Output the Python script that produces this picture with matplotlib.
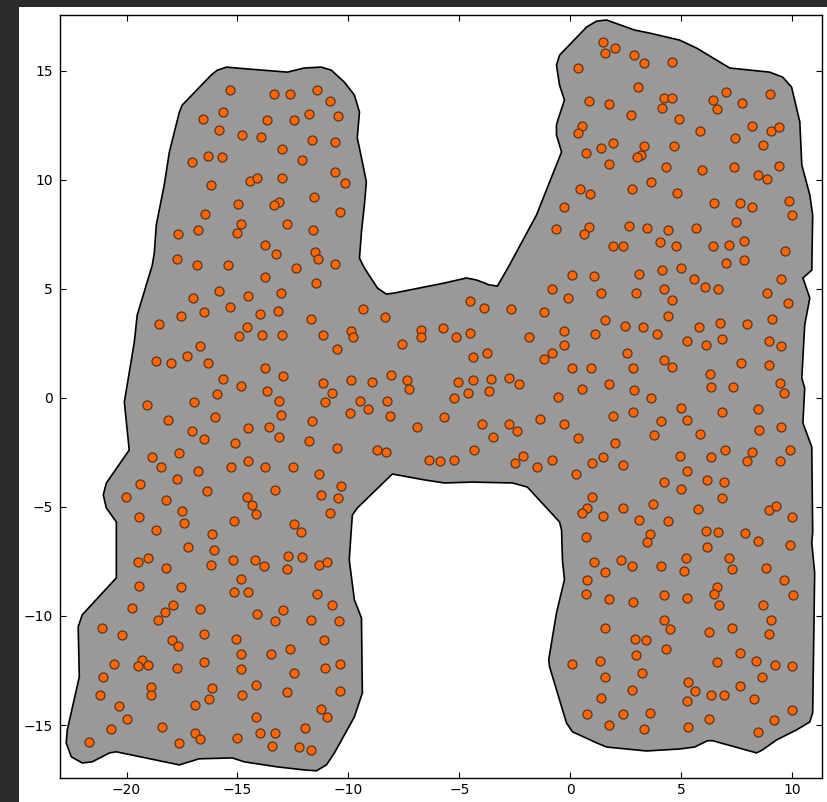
import matplotlib
matplotlib.use('Agg')
import matplotlib.pyplot as plt
from matplotlib.patches import Polygon, Rectangle

# outline of the sampled region (concave hull, buffered)
hull_x = [-17.49, -16.18, -15.91, -15.50, -14.47, -12.75, -11.99, -11.22, -10.77, -10.18,
          -9.73, -9.50, -9.60, -9.37, -9.19, -9.28, -9.41, -9.50, -9.28, -8.69,
          -8.29, -7.93, -5.67, -4.68, -4.23, -3.64, -3.28, -2.74, -1.52, -0.39,
          -0.62, -0.62, -0.48, -0.26, -0.48, -0.62, -0.48, 0.74, 1.19, 1.64,
          2.90, 3.58, 4.93, 5.70, 7.19, 8.99, 9.58, 9.98, 10.35, 10.44,
          10.80, 10.93, 10.89, 10.49, 10.80, 10.57, 10.44, 10.57, 10.49, 10.89,
          10.93, 10.89, 11.02, 10.93, 10.80, 10.21, 9.31, 8.67, 8.40, 6.42,
          6.19, 5.61, 4.93, 3.44, 1.64, 1.19, 0.10, -0.17, -0.93, -0.97,
          -0.62, -0.26, -0.35, -0.39, -0.48, -1.93, -2.60, -4.41, -5.67, -6.57,
          -8.02, -9.60, -9.82, -9.87, -9.96, -9.73, -9.41, -9.37, -9.73, -10.63,
          -10.99, -11.44, -11.99, -13.20, -14.69, -15.23, -16.73, -17.62, -20.46, -20.77,
          -21.55, -22.00, -22.49, -22.72, -22.67, -22.13, -22.18, -22.00, -20.46, -20.46,
          -20.46, -20.91, -21.05, -20.91, -19.88, -20.10, -19.65, -19.52, -18.84, -18.75,
          -18.66, -18.30, -18.07, -17.62]
hull_y = [13.43, 14.81, 15.03, 15.17, 15.08, 14.94, 15.13, 15.17, 15.03, 14.48,
          13.89, 13.11, 11.93, 10.82, 9.90, 8.84, 7.61, 6.41, 5.96, 5.04,
          4.76, 4.81, 5.27, 5.50, 5.41, 5.18, 5.13, 6.09, 8.39, 11.28,
          12.06, 12.52, 12.98, 13.66, 14.34, 15.26, 15.72, 17.01, 17.28, 17.33,
          16.87, 16.73, 16.41, 16.04, 15.13, 14.94, 14.71, 14.25, 12.66, 10.68,
          9.31, 8.39, 5.86, 5.50, 4.58, 3.34, 0.91, 0.45, -1.15, -2.25,
          -6.15, -6.65, -8.02, -14.44, -14.86, -15.22, -15.68, -16.14, -16.28, -15.72,
          -15.72, -16.01, -16.10, -16.19, -16.01, -15.82, -15.31, -14.90, -12.33, -12.01,
          -9.86, -8.34, -7.43, -6.06, -5.69, -4.09, -3.90, -3.86, -3.90, -3.76,
          -3.49, -5.05, -5.37, -6.06, -7.43, -9.26, -10.09, -13.53, -14.63, -16.28,
          -16.83, -17.10, -17.06, -16.92, -16.69, -16.51, -16.55, -16.83, -16.23, -16.28,
          -16.69, -16.74, -16.46, -15.82, -15.22, -12.79, -10.50, -9.95, -8.25, -6.29,
          -5.69, -5.05, -4.45, -3.90, -2.39, -0.19, 2.56, 3.80, 6.09, 6.64,
          7.93, 9.77, 11.28, 13.11]

# sample locations, upper band
pts_upper = [
    (-15.32, 14.12), (-15.64, 13.11), (-16.54, 12.79), (-15.82, 12.28), (-14.78, 12.05),
    (-16.32, 11.09), (-15.68, 11.05), (-17.04, 10.82), (-16.18, 9.76), (-14.96, 8.89),
    (-16.45, 8.43), (-14.83, 7.97), (-16.77, 7.70), (-15.01, 7.56), (-17.67, 7.51),
    (-17.71, 6.37), (-16.81, 6.09), (-15.41, 6.09),
    (-13.34, 13.93), (-12.62, 13.93), (-11.40, 14.12), (-10.81, 13.61), (-13.65, 12.74),
    (-12.44, 12.74), (-11.76, 13.02), (-10.45, 12.93), (-13.93, 11.96), (-11.62, 11.82),
    (-10.59, 11.73), (-12.98, 11.41), (-12.08, 10.91), (-14.42, 9.94), (-14.11, 10.08),
    (-12.98, 10.08), (-10.59, 10.36), (-10.14, 9.85), (-11.53, 9.21), (-13.11, 8.98),
    (-13.34, 8.84), (-10.36, 8.52), (-12.75, 7.97), (-11.58, 7.70), (-13.75, 7.01),
    (-13.25, 6.60), (-11.49, 6.69), (-11.35, 6.37), (-10.59, 6.14), (-12.35, 5.96),
    (1.46, 16.32), (1.55, 15.81), (2.04, 16.04), (0.37, 15.13), (0.83, 13.61),
    (1.73, 13.48), (2.72, 12.97), (0.51, 12.47), (0.37, 12.15), (0.69, 11.23),
    (1.41, 11.46), (1.95, 11.69), (1.77, 10.72), (0.42, 9.58), (0.87, 9.35),
    (2.77, 9.58), (-0.30, 8.75), (-0.66, 7.74), (0.83, 7.84), (0.60, 7.51),
    (2.63, 7.88), (1.91, 6.96), (2.36, 6.96),
    (2.86, 15.72), (3.31, 15.36), (4.61, 15.40), (3.04, 14.25), (4.25, 13.75),
    (4.61, 13.75), (4.12, 13.29), (4.89, 12.79), (5.83, 12.24), (7.01, 14.03),
    (6.42, 13.66), (6.60, 13.25), (7.73, 13.52), (8.99, 13.93), (8.18, 12.47),
    (9.04, 12.24), (9.40, 12.42), (7.41, 11.92), (8.67, 11.60), (3.31, 11.55),
    (4.66, 11.55), (3.17, 11.14), (2.99, 11.05), (4.30, 10.59), (5.92, 10.45),
    (7.37, 10.59), (8.45, 10.22), (8.86, 10.04), (9.40, 10.63), (3.62, 9.90),
    (4.80, 9.39), (6.46, 8.94), (7.64, 8.94), (8.18, 8.75), (9.85, 9.03),
    (9.98, 8.39), (7.46, 8.07), (3.44, 7.79), (4.39, 7.70), (5.65, 7.79),
    (4.03, 7.15), (4.75, 6.96), (6.42, 6.96), (7.14, 7.01), (7.82, 7.19),
    (9.67, 6.74), (7.01, 6.19), (7.82, 6.32), (4.12, 5.86), (4.98, 5.96),
]

# middle band, including the crossbar
pts_middle = [
    (-16.99, 4.58), (-15.82, 4.90), (-17.53, 3.76), (-16.50, 3.94), (-15.32, 4.17),
    (-18.53, 3.39), (-14.92, 2.84), (-16.68, 2.38), (-17.26, 1.92), (-18.66, 1.69),
    (-17.99, 1.60), (-16.32, 1.60), (-15.64, 0.87), (-14.83, 0.55), (-15.91, 0.18),
    (-19.07, -0.33), (-16.95, -0.19), (-18.12, -1.01), (-16.00, -0.88), (-17.04, -1.52),
    (-16.50, -1.88), (-15.10, -2.07), (-18.84, -2.71), (-17.62, -2.53), (-18.44, -3.17),
    (-16.77, -3.35), (-15.28, -3.17), (-19.38, -3.95), (-17.71, -3.72), (-20.02, -4.54),
    (-18.21, -4.68), (-16.36, -4.27), (-19.43, -5.46), (-17.49, -5.19), (-17.40, -5.74),
    (-15.14, -5.64), (-18.66, -6.06), (-16.14, -6.24),
    (-13.75, 5.54), (-11.44, 5.27), (-14.51, 4.67), (-13.02, 4.81), (-13.97, 3.85),
    (-13.16, 3.98), (-11.67, 3.62), (-9.32, 4.08), (-8.33, 3.71), (-14.56, 3.25),
    (-13.88, 2.88), (-12.98, 2.88), (-11.13, 2.88), (-9.87, 3.07), (-9.78, 2.79),
    (-10.50, 2.24), (-7.57, 2.47), (-6.71, 3.11), (-6.71, 2.79), (-13.75, 1.37),
    (-12.93, 1.00), (-11.13, 0.68), (-9.87, 0.82), (-8.92, 0.73), (-8.06, 1.05),
    (-7.38, 0.82), (-7.25, 0.41), (-13.65, 0.32), (-10.72, 0.22), (-13.11, -0.14),
    (-11.04, -0.19), (-9.46, -0.14), (-8.24, -0.14), (-9.10, -0.51), (-9.91, -0.69),
    (-8.11, -0.83), (-13.02, -0.78), (-11.62, -1.06), (-14.51, -1.38), (-13.56, -1.33),
    (-6.89, -1.33), (-13.11, -1.79), (-11.76, -1.98), (-10.50, -2.30), (-8.69, -2.39),
    (-8.29, -2.48), (-6.35, -2.85), (-5.85, -2.89), (-14.51, -2.89), (-13.75, -3.17),
    (-12.48, -3.17), (-11.31, -3.49), (-10.32, -4.04), (-13.29, -4.22), (-11.22, -4.45),
    (-10.45, -4.59), (-14.56, -4.54), (-14.33, -4.91), (-14.15, -5.32), (-10.81, -5.28),
    (-12.44, -5.78), (-12.12, -6.15),
    (0.10, 5.63), (1.05, 5.59), (-0.80, 4.99), (-0.08, 4.58), (1.37, 4.81),
    (-4.54, 4.44), (-3.87, 4.12), (-2.69, 4.08), (-1.20, 3.94), (1.59, 3.57),
    (2.45, 3.30), (-5.72, 3.20), (-5.17, 2.79), (-4.54, 2.98), (-1.84, 2.79),
    (-0.26, 3.07), (1.10, 2.93), (-0.30, 2.43), (-0.84, 2.06), (-1.16, 1.78),
    (2.58, 2.06), (-4.36, 1.88), (-3.73, 2.06), (0.10, 1.37), (0.92, 1.37),
    (-5.08, 0.73), (-4.36, 0.82), (-3.55, 0.87), (-2.78, 0.91), (-2.33, 0.64),
    (-4.59, 0.22), (-3.64, 0.32), (-5.22, 0.00), (-0.57, 0.04), (0.55, 0.41),
    (1.77, 0.64), (-5.67, -0.88), (-3.96, -1.20), (-2.78, -1.20), (-2.42, -1.52),
    (-3.46, -1.79), (-1.34, -0.97), (-0.30, -1.20), (1.91, -0.83), (0.37, -1.84),
    (2.04, -2.07), (-4.32, -2.39), (-5.22, -2.85), (-2.11, -2.66), (-2.51, -2.98),
    (-1.48, -3.17), (-0.84, -2.85), (0.96, -2.98), (1.46, -2.71), (2.36, -3.08),
    (0.24, -3.49), (0.96, -4.54), (0.74, -5.05), (0.55, -5.28), (1.46, -5.41),
    (2.36, -5.05),
    (3.08, 5.68), (5.56, 5.45), (6.06, 5.08), (6.64, 4.99), (2.95, 4.81),
    (4.25, 4.99), (4.61, 4.49), (8.86, 4.81), (9.49, 5.45), (9.80, 4.35),
    (4.39, 3.76), (3.26, 3.25), (3.89, 2.93), (5.79, 3.25), (6.73, 3.43),
    (7.95, 3.39), (9.08, 3.62), (5.25, 2.61), (6.10, 2.43), (6.83, 2.70),
    (8.95, 2.61), (9.49, 2.38), (4.21, 1.74), (4.61, 1.42), (2.81, 1.37),
    (7.68, 1.60), (8.95, 1.51), (6.28, 1.10), (6.33, 0.50), (7.32, 0.50),
    (9.44, 0.68), (9.62, 0.22), (2.86, 0.36), (3.62, 0.00), (4.98, -0.46),
    (6.83, -0.65), (8.45, -0.51), (2.81, -0.65), (4.07, -1.06), (5.25, -1.01),
    (3.76, -1.70), (5.83, -1.65), (8.49, -1.47), (9.49, -1.33), (4.93, -2.66),
    (6.33, -2.71), (6.96, -2.39), (8.18, -2.48), (7.95, -2.89), (9.44, -2.89),
    (9.89, -2.39), (5.25, -3.35), (4.25, -3.86), (4.98, -4.18), (6.15, -3.76),
    (6.92, -3.86), (6.83, -4.59), (3.71, -4.86), (5.74, -5.09), (8.95, -5.14),
    (9.26, -4.96), (9.98, -5.46), (3.08, -5.60), (4.43, -5.64), (3.58, -6.24),
    (6.10, -6.10), (6.64, -6.15), (7.86, -6.19),
]

# lower band
pts_lower = [
    (-17.22, -6.84), (-16.05, -6.97), (-19.02, -7.34), (-19.47, -7.52), (-18.21, -7.80),
    (-16.18, -7.66), (-15.19, -7.43), (-14.83, -8.30), (-19.43, -8.62), (-17.53, -8.67),
    (-15.14, -8.90), (-14.51, -8.90), (-19.74, -9.63), (-17.90, -9.50), (-18.26, -9.82),
    (-16.68, -9.68), (-18.57, -10.18), (-21.10, -10.55), (-20.20, -10.87), (-16.50, -10.82),
    (-15.05, -11.05), (-17.94, -11.10), (-17.67, -11.38), (-14.83, -11.74), (-20.56, -12.20),
    (-19.29, -12.02), (-19.47, -12.29), (-19.02, -12.24), (-17.71, -12.38), (-16.50, -12.11),
    (-14.83, -12.42), (-21.05, -12.80), (-18.89, -13.26), (-18.89, -13.62), (-21.19, -13.62),
    (-16.14, -13.30), (-16.27, -13.81), (-14.78, -13.62), (-20.33, -14.13), (-16.90, -14.08),
    (-19.97, -14.72), (-18.39, -15.09), (-20.69, -15.18), (-16.90, -15.36), (-16.68, -15.64),
    (-15.01, -15.59), (-17.62, -15.82), (-21.68, -15.77),
    (-14.20, -7.43), (-13.79, -7.71), (-12.71, -7.25), (-12.08, -7.29), (-12.75, -7.84),
    (-11.31, -7.66), (-10.95, -7.52), (-11.40, -8.99), (-10.72, -9.50), (-14.11, -9.91),
    (-12.93, -9.73), (-13.29, -10.23), (-11.67, -10.18), (-10.41, -10.23), (-11.08, -11.10),
    (-12.62, -11.51), (-13.47, -11.74), (-11.04, -12.38), (-10.36, -12.20), (-12.44, -12.61),
    (-14.15, -13.16), (-12.75, -13.48), (-10.36, -13.44), (-11.22, -14.26), (-10.95, -14.63),
    (-14.15, -14.63), (-11.94, -15.14), (-13.97, -15.36), (-13.29, -15.36), (-13.43, -15.96),
    (-12.21, -16.01), (-11.67, -16.14),
    (0.69, -6.38), (1.05, -7.52), (2.31, -7.43), (1.59, -7.98), (0.74, -8.35),
    (0.69, -8.99), (1.73, -9.22), (1.55, -10.55), (0.06, -12.20), (1.32, -12.06),
    (1.55, -12.80), (1.37, -13.76), (0.74, -14.49), (2.36, -14.49), (1.73, -15.00),
    (3.44, -6.61), (8.45, -6.56), (9.89, -6.74), (6.15, -6.84), (5.20, -7.34),
    (7.14, -7.34), (2.77, -7.71), (4.07, -7.71), (5.11, -7.94), (7.28, -7.84),
    (8.81, -7.80), (9.62, -8.35), (6.60, -8.67), (6.46, -8.99), (4.25, -9.04),
    (5.25, -9.17), (6.69, -9.50), (8.67, -9.50), (10.03, -9.04), (2.81, -9.36),
    (4.25, -10.18), (4.48, -10.59), (6.24, -10.73), (7.28, -10.55), (8.95, -10.82),
    (9.04, -10.18), (2.90, -11.05), (3.40, -11.10), (4.30, -11.51), (2.95, -11.79),
    (7.64, -11.69), (6.60, -12.11), (8.36, -12.06), (9.22, -12.24), (9.98, -12.29),
    (3.22, -12.61), (8.63, -12.80), (5.29, -13.03), (2.77, -13.39), (5.61, -13.44),
    (6.33, -13.62), (6.92, -13.62), (7.64, -13.21), (8.27, -13.81), (5.25, -13.90),
    (9.98, -14.31), (3.58, -14.44), (6.24, -14.72), (9.17, -14.77), (3.31, -15.18),
    (5.29, -15.09), (8.45, -15.31),
]


def main():
    pts = pts_upper + pts_middle + pts_lower
    xs = [p[0] for p in pts]
    ys = [p[1] for p in pts]

    fig = plt.figure(figsize=(8.28, 8.02), dpi=100, facecolor='white')
    # notebook chrome around the output cell
    fig.patches.append(Rectangle((0, 0), 19 / 828, 1, transform=fig.transFigure,
                                 facecolor='#2b2b2b', edgecolor='none', zorder=-10))
    fig.patches.append(Rectangle((0, 795 / 802), 1, 7 / 802, transform=fig.transFigure,
                                 facecolor='#2b2b2b', edgecolor='none', zorder=-10))

    ax = fig.add_axes([60 / 828, 24 / 802, 762 / 828, 763 / 802])
    ax.add_patch(Polygon(list(zip(hull_x, hull_y)), closed=True, facecolor='#999999',
                         edgecolor='black', linewidth=1.2, zorder=1))
    ax.scatter(xs, ys, s=42, c='#ff6600', edgecolors='#5a3420', linewidths=0.9, zorder=2)

    ax.set_xlim(-23.0, 11.35)
    ax.set_ylim(-17.43, 17.56)
    ax.set_xticks([-20, -15, -10, -5, 0, 5, 10])
    ax.set_yticks([-15, -10, -5, 0, 5, 10, 15])
    ax.tick_params(direction='in', top=True, right=True, length=4, width=0.8, labelsize=10)
    ax.tick_params(axis='y', pad=5)
    for sp in ax.spines.values():
        sp.set_linewidth(1.0)

    fig.savefig('out.png', dpi=100, facecolor=fig.get_facecolor())
    plt.close()


if __name__ == '__main__':
    main()
